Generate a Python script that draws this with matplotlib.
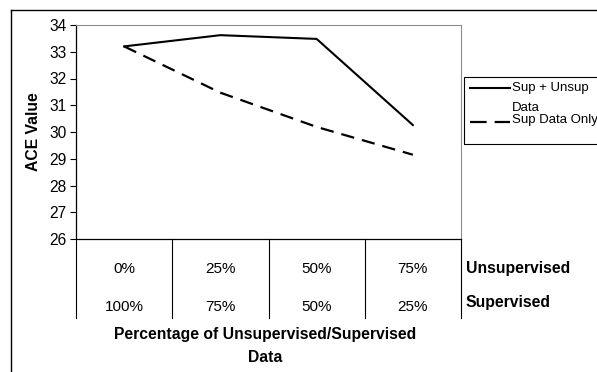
import matplotlib.pyplot as plt
from matplotlib import font_manager
from matplotlib.lines import Line2D
from matplotlib.patches import Rectangle

# ACE values per mix of unsupervised / supervised training data
unsup_pct = ['0%', '25%', '50%', '75%']
sup_pct = ['100%', '75%', '50%', '25%']
sup_unsup = [33.2, 33.62, 33.48, 30.26]
sup_only = [33.2, 31.47, 30.19, 29.15]
series_names = ['Sup + Unsup\nData', 'Sup Data Only']
y_ticks = [26, 27, 28, 29, 30, 31, 32, 33, 34]

W, H = 597, 372
plt.rcParams['font.family'] = ['Liberation Sans', 'DejaVu Sans']
fig = plt.figure(figsize=(W / 100, H / 100), dpi=100)

# the legend uses a condensed face when one is available
installed = {f.name for f in font_manager.fontManager.ttflist}
narrow = 'Liberation Sans Narrow' if 'Liberation Sans Narrow' in installed else 'Liberation Sans'
leg_size = 10.5 if narrow == 'Liberation Sans Narrow' else 9.5


def fx(px):
    return px / W


def fy(py):
    return 1 - py / H


# outer chart frame (runs off the right and bottom edges)
fig.add_artist(Line2D([fx(11), fx(11)], [fy(9.5), fy(H + 5)], color='black', lw=1.0))
fig.add_artist(Line2D([fx(11), fx(W + 5)], [fy(9.5), fy(9.5)], color='black', lw=1.0))

# plot area
ax = fig.add_axes([fx(76), fy(239), (461 - 76) / W, (239 - 25) / H])
x = range(len(unsup_pct))
ax.plot(x, sup_unsup, color='black', lw=1.5, solid_joinstyle='miter')
ax.plot(x, sup_only, color='black', lw=1.6, dashes=(6, 3.6))
ax.set_xlim(-0.5, len(unsup_pct) - 0.5)
ax.set_ylim(26, 34)
ax.set_yticks(y_ticks)
ax.tick_params(axis='y', length=4.3, width=0.8, pad=2.5, labelsize=11.2)
ax.set_xticks([])
for side in ['top', 'right']:
    ax.spines[side].set_color('#8c8c8c')
    ax.spines[side].set_linewidth(0.8)
for side in ['left', 'bottom']:
    ax.spines[side].set_color('black')
    ax.spines[side].set_linewidth(0.9)

# two-level category axis below the plot
trans = ax.get_xaxis_transform()
for i in range(len(unsup_pct) + 1):
    ax.plot([i - 0.5, i - 0.5], [0, -(318 - 239) / 214], color='black', lw=0.8,
            transform=trans, clip_on=False)
for i, (u, s) in enumerate(zip(unsup_pct, sup_pct)):
    ax.text(i, -(269 - 239) / 214, u, transform=trans, ha='center', va='center', fontsize=11)
    ax.text(i, -(307 - 239) / 214, s, transform=trans, ha='center', va='center', fontsize=11)
fig.text(fx(466), fy(268), 'Unsupervised', ha='left', va='center', fontsize=11.3, fontweight='bold')
fig.text(fx(466), fy(303), 'Supervised', ha='left', va='center', fontsize=11.3, fontweight='bold')

fig.text(fx(265), fy(334), 'Percentage of Unsupervised/Supervised', ha='center', va='center',
         fontsize=11.3, fontweight='bold')
fig.text(fx(265), fy(358), 'Data', ha='center', va='center', fontsize=11.3, fontweight='bold')
fig.text(fx(33), fy(132), 'ACE Value', ha='center', va='center', rotation=90,
         fontsize=11.3, fontweight='bold')

# legend box
fig.add_artist(Rectangle((fx(464), fy(144)), fx(W + 10 - 464), (144 - 77) / H,
                         transform=fig.transFigure, fill=False, edgecolor='black', lw=0.8))
fig.add_artist(Line2D([fx(470), fx(510)], [fy(88), fy(88)], color='black', lw=1.5))
fig.add_artist(Line2D([fx(470), fx(510)], [fy(122), fy(122)], color='black', lw=1.6, dashes=(7.5, 3.6)))
first, second = series_names[0].split('\n')
fig.text(fx(512), fy(88), first, ha='left', va='center', fontsize=leg_size, family=narrow)
fig.text(fx(512), fy(108), second, ha='left', va='center', fontsize=leg_size, family=narrow)
fig.text(fx(512), fy(120), series_names[1], ha='left', va='center', fontsize=leg_size, family=narrow)

fig.savefig('out.png', dpi=100)
